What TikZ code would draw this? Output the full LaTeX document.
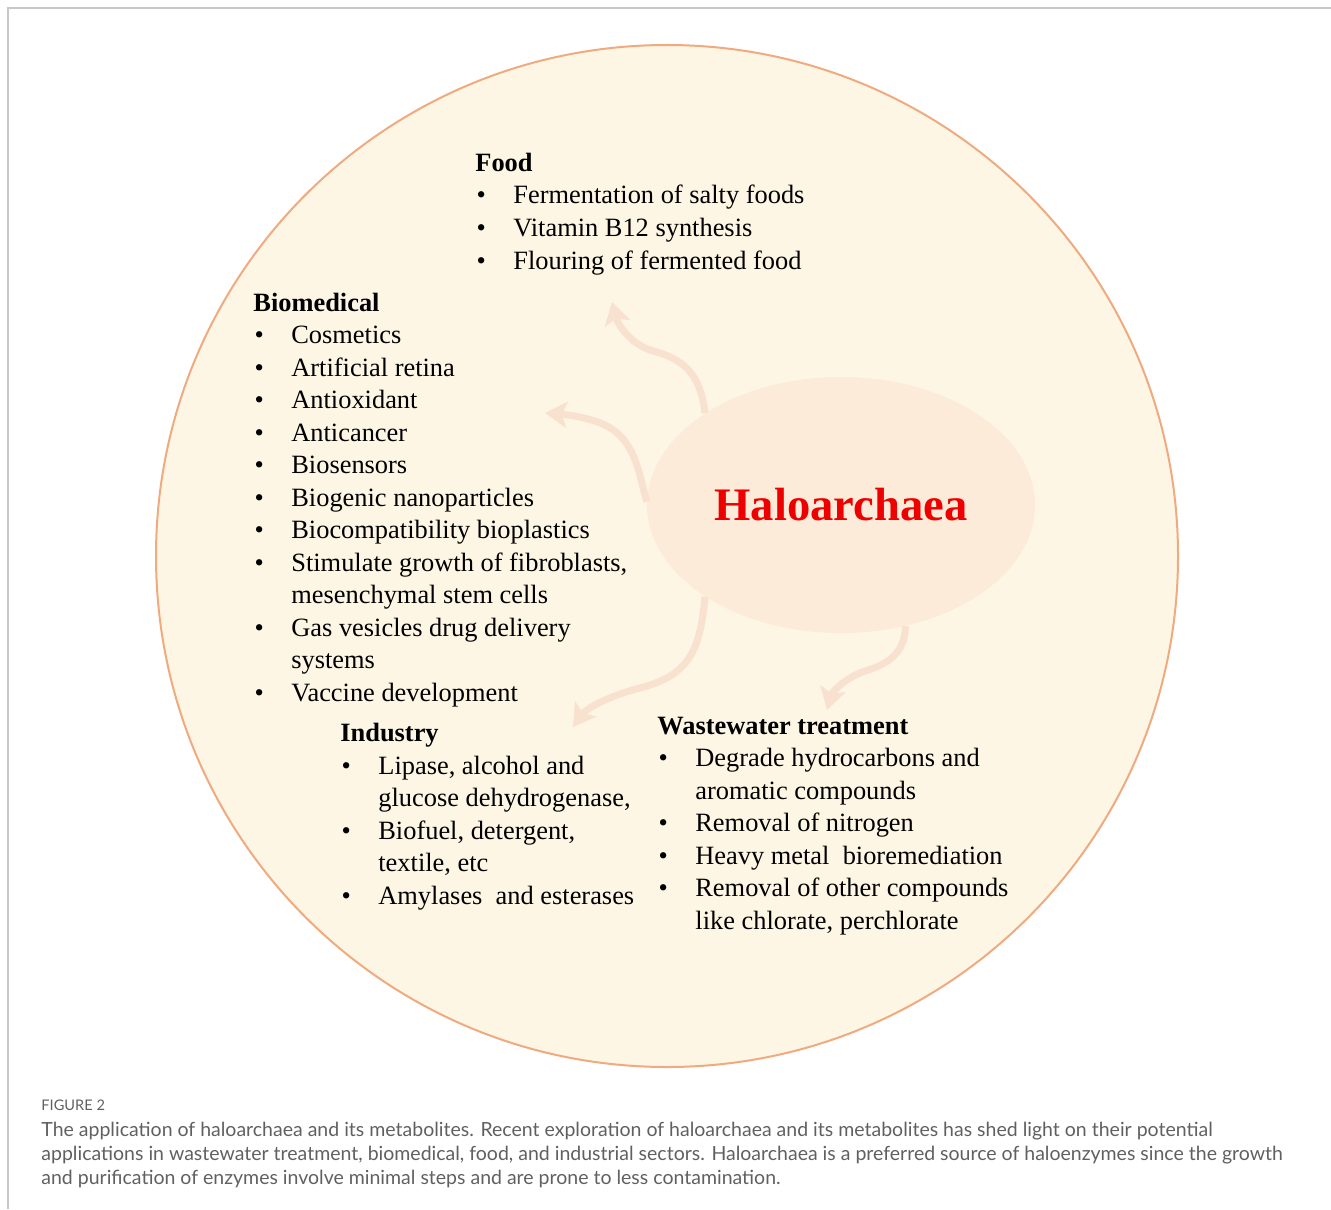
\documentclass[tikz,border=0pt]{standalone}
\usepackage{fontspec}
\setmainfont{Liberation Serif}
\newfontfamily\capfont{Lato}
\usetikzlibrary{shapes.geometric,arrows.meta}

\definecolor{cream}{HTML}{FEF6E4}
\definecolor{rim}{HTML}{F0AA80}
\definecolor{ellfill}{HTML}{FCEBD8}
\definecolor{peach}{HTML}{F8E1CF}
\definecolor{halored}{HTML}{EE0000}
\definecolor{framegray}{HTML}{C8C8C8}
\definecolor{capgray}{HTML}{606060}

% bullet item and its continuation line
\newcommand{\bul}{\makebox[19pt][l]{\hspace{0.6pt}\textbullet}}
\newcommand{\cont}{\hspace*{19pt}}

\begin{document}
\begin{tikzpicture}[x=0.5pt, y=-0.5pt,
  lst/.style={anchor=base west, inner sep=0pt, align=left, font=\fontsize{13.2}{16.25}\selectfont},
  flow/.style={line width=3.5pt, draw=peach, -{Stealth[length=11pt, width=13pt, inset=2.5pt]}},
  captxt/.style={anchor=base west, inner sep=0pt, text=capgray, font=\capfont\fontsize{9.75}{12}\selectfont}]
\useasboundingbox (0,0) rectangle (1331,1209);
\draw[framegray, line width=1pt] (8,1209) -- (8,8) -- (1331,8);

%disc and centre
\filldraw[fill=cream, draw=rim, line width=1pt] (667,556) circle (511);
\node[ellipse, fill=ellfill, minimum width=194pt, minimum height=128pt, inner sep=0pt,
      text=halored, font=\fontsize{23.3}{28}\selectfont\bfseries] (halo) at (841,505) {Haloarchaea};

%arrow tips
\coordinate (foodtip) at (612,302);
\coordinate (biotip) at (545,413);
\coordinate (indtip) at (573,727);
\coordinate (wwtip) at (827,710);

\draw[flow] (halo.146) .. controls (700,370) and (680,358) .. (650,350) .. controls (630,343) and (618,325) .. (foodtip);
\draw[flow] (halo.179) .. controls (638,470) and (635,440) .. (605,425) .. controls (590,418) and (570,415) .. (biotip);
\draw[flow] (halo.214) .. controls (700,650) and (690,675) .. (640,688) .. controls (605,697) and (585,710) .. (indtip);
\draw[flow] (halo.298) .. controls (905,655) and (885,665) .. (865,671) .. controls (845,678) and (832,692) .. (wwtip);

% lists are placed by the baseline of their last line
%food
\node[lst] (food) at (475,269) {\textbf{Food}\\
  \bul Fermentation of salty foods\\
  \bul Vitamin B12 synthesis\\
  \bul Flouring of fermented food};

%biomedical
\node[lst] (bio) at (253,701) {\textbf{Biomedical}\\
  \bul Cosmetics\\
  \bul Artificial retina\\
  \bul Antioxidant\\
  \bul Anticancer\\
  \bul Biosensors\\
  \bul Biogenic nanoparticles\\
  \bul Biocompatibility bioplastics\\
  \bul Stimulate growth of fibroblasts,\\
  \cont mesenchymal stem cells\\
  \bul Gas vesicles drug delivery\\
  \cont systems\\
  \bul Vaccine development};

%industry
\node[lst] (ind) at (340,904) {\textbf{Industry}\\
  \bul Lipase, alcohol and\\
  \cont glucose dehydrogenase,\\
  \bul Biofuel, detergent,\\
  \cont textile, etc\\
  \bul Amylases\ \ and esterases};

%wastewater
\node[lst] (ww) at (657,929) {\textbf{Wastewater treatment}\\
  \bul Degrade hydrocarbons and\\
  \cont aromatic compounds\\
  \bul Removal of nitrogen\\
  \bul Heavy metal\ \ bioremediation\\
  \bul Removal of other compounds\\
  \cont like chlorate, perchlorate};

%caption
\node[captxt, font=\capfont\fontsize{7.3}{9}\selectfont] (fig) at (41,1110) {FIGURE 2};
\node[captxt] (cap1) at (41,1136) {The application of haloarchaea and its metabolites. Recent exploration of haloarchaea and its metabolites has shed light on their potential};
\node[captxt] (cap2) at (41,1160) {applications in wastewater treatment, biomedical, food, and industrial sectors. Haloarchaea is a preferred source of haloenzymes since the growth};
\node[captxt] (cap3) at (41,1184) {and purification of enzymes involve minimal steps and are prone to less contamination.};
\end{tikzpicture}
\end{document}
